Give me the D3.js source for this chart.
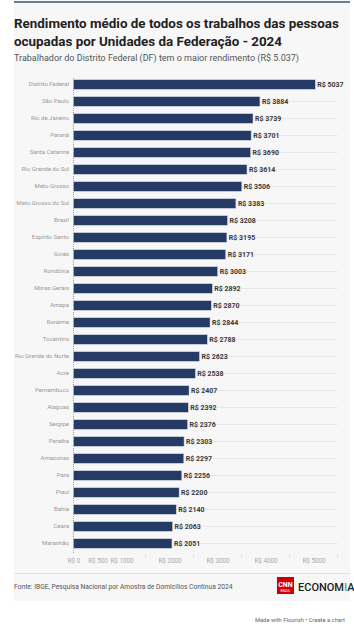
<!DOCTYPE html>
<html>
<head>
<meta charset="utf-8">
<script src="https://cdn.jsdelivr.net/npm/d3@7"></script>
<style>
  body { margin: 0; background: #fff; font-family: Roboto, "Noto Sans", sans-serif; }
  svg { display: block; }
</style>
</head>
<body>
<div id="d3-container"></div>
<script>
/* DATA */
const states = ["Distrito Federal", "São Paulo", "Rio de Janeiro", "Paraná", "Santa Catarina",
  "Rio Grande do Sul", "Mato Grosso", "Mato Grosso do Sul", "Brasil", "Espírito Santo", "Goiás",
  "Rondônia", "Minas Gerais", "Amapa", "Roraima", "Tocantins", "Rio Grande do Norte", "Acre",
  "Pernambuco", "Alagoas", "Sergipe", "Paraiba", "Amazonas", "Para", "Piaui", "Bahia", "Ceara", "Maranhão"];
const income = [5037, 3884, 3739, 3701, 3690, 3614, 3506, 3383, 3208, 3195, 3171,
  3003, 2892, 2870, 2844, 2788, 2623, 2538, 2407, 2392, 2376, 2303, 2297, 2256, 2200, 2140, 2063, 2051];
const tickLabels = [0, 500, 1000, 2000, 3000, 4000, 5000];
const minorTicks = [1500, 2500, 3500, 4500, 5500];

/* CONSTANTS */
const width = 354, height = 627;
const left = 14, right = 350;

const svg = d3.select("#d3-container")
  .append("svg")
  .attr("width", width)
  .attr("height", height);

// background panel
svg.append("rect")
  .attr("x", left).attr("y", 0)
  .attr("width", right - left).attr("height", 601)
  .attr("fill", "#f7f7f7");

svg.append("line")
  .attr("x1", left).attr("x2", right)
  .attr("y1", 2).attr("y2", 2)
  .attr("stroke", "#435466").attr("stroke-width", 1.5);

// titles
const title = svg.append("text")
  .attr("x", left)
  .attr("font-size", 13.4)
  .attr("font-weight", 700)
  .attr("fill", "#222");
title.append("tspan").attr("x", left).attr("y", 28).text("Rendimento médio de todos os trabalhos das pessoas");
title.append("tspan").attr("x", left).attr("y", 45.5).text("ocupadas por Unidades da Federação - 2024");

svg.append("text")
  .attr("x", left).attr("y", 61)
  .attr("font-size", 9)
  .attr("fill", "#555")
  .text("Trabalhador do Distrito Federal (DF) tem o maior rendimento (R$ 5.037)");

/* SCALES */
const xScale = d3.scaleLinear()
  .domain([0, 5500])
  .range([73.5, 337.5]);

const yScale = d3.scaleBand()
  .domain(states)
  .range([76, 552])
  .paddingInner(0.44)
  .paddingOuter(0.22);

const rows = states.map((s, i) => ({ name: s, value: income[i] }));

// row gridlines
svg.append("g")
  .selectAll("line")
  .data(rows)
  .join("line")
  .attr("x1", xScale(0))
  .attr("x2", xScale(5500))
  .attr("y1", d => yScale(d.name) + yScale.bandwidth() / 2)
  .attr("y2", d => yScale(d.name) + yScale.bandwidth() / 2)
  .attr("stroke", "#e8e8e8")
  .attr("stroke-width", 1);

// x axis
const xAxis = d3.axisBottom(xScale)
  .tickValues(tickLabels)
  .tickSize(0)
  .tickFormat(d => "R$ " + d);

svg.append("g")
  .attr("class", "xAxis")
  .attr("transform", `translate(0, 556)`)
  .call(xAxis)
  .call(g => g.select(".domain").remove())
  .call(g => g.selectAll("text")
    .attr("fill", "#aaa")
    .attr("font-size", 6.3)
    .attr("font-family", "Roboto, sans-serif"));

svg.append("g")
  .selectAll("line")
  .data(minorTicks)
  .join("line")
  .attr("x1", d => xScale(d)).attr("x2", d => xScale(d))
  .attr("y1", 554).attr("y2", 557)
  .attr("stroke", "#ddd");

// y axis
const yAxis = d3.axisLeft(yScale).tickSize(0).tickPadding(4.5);
svg.append("g")
  .attr("class", "yAxis")
  .attr("transform", `translate(${xScale(0)}, 0)`)
  .call(yAxis)
  .call(g => g.select(".domain").remove())
  .call(g => g.selectAll("text")
    .attr("fill", "#999")
    .attr("font-size", 6)
    .attr("font-family", "Roboto, sans-serif"));

svg.append("line")
  .attr("x1", xScale(0)).attr("x2", xScale(0))
  .attr("y1", 78).attr("y2", 554)
  .attr("stroke", "#888")
  .attr("stroke-width", 0.8)
  .attr("stroke-dasharray", "1,1");

/* BARS */
svg.append("g")
  .selectAll("rect")
  .data(rows)
  .join("rect")
  .attr("x", xScale(0))
  .attr("y", d => yScale(d.name))
  .attr("width", d => xScale(d.value) - xScale(0))
  .attr("height", yScale.bandwidth())
  .attr("fill", "#263a66")
  .attr("stroke", "#c9d0dd")
  .attr("stroke-width", 0.5);

svg.append("g")
  .selectAll("text")
  .data(rows)
  .join("text")
  .attr("x", d => xScale(d.value) + 2)
  .attr("y", d => yScale(d.name) + yScale.bandwidth() / 2)
  .attr("dy", "0.35em")
  .attr("font-size", 7)
  .attr("font-weight", 700)
  .attr("fill", "#3a3a3a")
  .text(d => "R$ " + d.value);

/* FOOTER */
svg.append("line")
  .attr("x1", left).attr("x2", right)
  .attr("y1", 573.5).attr("y2", 573.5)
  .attr("stroke", "#e2e2e2");

svg.append("text")
  .attr("x", left).attr("y", 589)
  .attr("font-size", 6.7)
  .attr("fill", "#555")
  .text("Fonte: IBGE, Pesquisa Nacional por Amostra de Domicílios Contínua 2024");

svg.append("rect")
  .attr("x", 277).attr("y", 577)
  .attr("width", 17).attr("height", 17)
  .attr("fill", "#cc0000");
svg.append("text")
  .attr("x", 285.5).attr("y", 587)
  .attr("text-anchor", "middle")
  .attr("font-size", 7).attr("font-weight", 700)
  .attr("fill", "#fff")
  .text("CNN");
svg.append("text")
  .attr("x", 285.5).attr("y", 591.5)
  .attr("text-anchor", "middle")
  .attr("font-size", 3)
  .attr("fill", "#fff")
  .text("BRASIL");

const eco = svg.append("text")
  .attr("x", 298).attr("y", 590.5)
  .attr("font-size", 11)
  .attr("font-weight", 500)
  .attr("fill", "#222");
eco.append("tspan").text("ECONOM");
eco.append("tspan").attr("fill", "#19b8c0").text("I");
eco.append("tspan").text("A");

svg.append("text")
  .attr("x", 345).attr("y", 622)
  .attr("text-anchor", "end")
  .attr("font-size", 5.8)
  .attr("fill", "#666")
  .text("Made with Flourish • Create a chart");
</script>
</body>
</html>
